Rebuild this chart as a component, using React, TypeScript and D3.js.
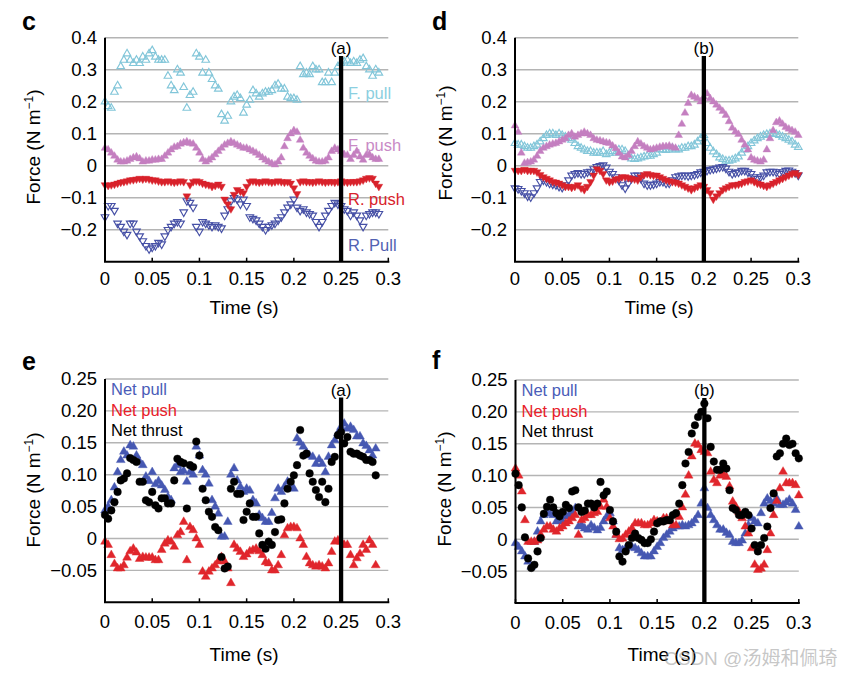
import React from "react";
import * as d3 from "d3";

// ---- data (sampling step 1/300 s) ----
const DT = 1 / 300;

const C_F_PULL = [0.20,0.185,0.18,0.23,0.25,0.31,0.33,0.35,0.33,0.32, 0.33,0.32,0.34,0.33,0.35,0.36,0.34,0.33,0.33,0.33, 0.28,0.25,0.235,0.30,0.29,0.245,0.18,0.22,0.23,0.35, 0.34,0.29,0.33,0.29,0.27,0.25,0.24,0.16,0.14,0.155, 0.20,0.215,0.22,0.21,0.165,0.19,0.205,0.235,0.225,0.215, 0.225,0.23,0.23,0.235,0.25,0.255,0.24,0.24,0.215,0.21, 0.21,0.205,0.31,0.285,0.29,0.285,0.31,0.30,0.30,0.26, 0.26,0.29,0.26,0.29,0.31,0.32,0.325,0.33,0.32,0.325, 0.32,0.33,0.335,0.31,0.30,0.28,0.30,0.29];
const C_F_PUSH = [0.055,0.05,0.04,0.03,0.018,0.012,0.012,0.015,0.02,0.025, 0.028,0.022,0.012,0.015,0.015,0.018,0.018,0.02,0.02,0.03, 0.04,0.05,0.058,0.06,0.068,0.072,0.075,0.07,0.068,0.055, 0.04,0.02,0.012,0.018,0.025,0.035,0.045,0.055,0.065,0.07, 0.075,0.07,0.065,0.06,0.055,0.055,0.05,0.045,0.04,0.033, 0.025,0.018,0.012,0.007,0.003,0.012,0.025,0.06,0.085,0.1, 0.11,0.105,0.08,0.055,0.04,0.03,0.022,0.015,0.012,0.012, 0.015,0.025,0.045,0.055,0.05,0.045,0.035,0.033,0.02,0.033, 0.045,0.028,0.018,0.033,0.035,0.025,0.02,0.02];
const C_R_PUSH = [-0.06,-0.062,-0.06,-0.058,-0.055,-0.052,-0.05,-0.048,-0.045,-0.044, -0.042,-0.04,-0.042,-0.04,-0.042,-0.045,-0.045,-0.048,-0.05,-0.05, -0.048,-0.05,-0.052,-0.05,-0.048,-0.05,-0.095,-0.06,-0.05,-0.048, -0.05,-0.055,-0.058,-0.06,-0.065,-0.062,-0.058,-0.065,-0.105,-0.12, -0.135,-0.09,-0.075,-0.08,-0.085,-0.065,-0.05,-0.048,-0.05,-0.052, -0.05,-0.048,-0.05,-0.052,-0.05,-0.048,-0.05,-0.052,-0.05,-0.055, -0.07,-0.088,-0.05,-0.048,-0.05,-0.05,-0.052,-0.05,-0.048,-0.05, -0.052,-0.05,-0.05,-0.052,-0.05,-0.048,-0.05,-0.052,-0.05,-0.05, -0.05,-0.048,-0.045,-0.04,-0.038,-0.04,-0.055,-0.065];
const C_R_PULL = [-0.16,-0.125,-0.125,-0.14,-0.18,-0.19,-0.205,-0.215,-0.18,-0.18, -0.205,-0.22,-0.235,-0.25,-0.26,-0.255,-0.25,-0.24,-0.245,-0.22, -0.2,-0.19,-0.18,-0.175,-0.18,-0.145,-0.11,-0.115,-0.13,-0.19, -0.205,-0.175,-0.18,-0.185,-0.19,-0.185,-0.19,-0.195,-0.155,-0.135, -0.11,-0.1,-0.105,-0.12,-0.105,-0.125,-0.16,-0.165,-0.17,-0.18, -0.19,-0.2,-0.19,-0.185,-0.18,-0.17,-0.16,-0.145,-0.13,-0.12, -0.105,-0.13,-0.14,-0.135,-0.145,-0.15,-0.155,-0.175,-0.19,-0.175, -0.155,-0.14,-0.125,-0.115,-0.12,-0.125,-0.135,-0.14,-0.155,-0.145, -0.155,-0.17,-0.19,-0.155,-0.15,-0.145,-0.145,-0.15];

const D_F_PULL = [0.07,0.065,0.065,0.06,0.055,0.055,0.06,0.065,0.075,0.085, 0.095,0.1,0.1,0.095,0.1,0.095,0.09,0.085,0.08,0.07, 0.06,0.055,0.05,0.045,0.045,0.04,0.04,0.04,0.045,0.035, 0.04,0.045,0.04,0.05,0.05,0.045,0.03,0.022,0.02,0.022, 0.025,0.028,0.03,0.03,0.035,0.04,0.05,0.05,0.048,0.05, 0.055,0.05,0.05,0.055,0.055,0.06,0.06,0.065,0.075,0.085, 0.095,0.07,0.055,0.044,0.035,0.025,0.02,0.015,0.015,0.018, 0.022,0.028,0.04,0.05,0.06,0.07,0.078,0.085,0.09,0.095, 0.098,0.1,0.1,0.098,0.095,0.09,0.085,0.08,0.075,0.065, 0.058];
const D_F_PUSH = [0.125,0.105,0.04,0.008,0.01,0.012,0.018,0.03,0.045,0.055, 0.06,0.065,0.068,0.07,0.075,0.08,0.085,0.095,0.1,0.09, 0.095,0.1,0.105,0.1,0.095,0.085,0.08,0.078,0.075,0.072, 0.07,0.062,0.054,0.04,0.028,0.025,0.033,0.045,0.06,0.075, 0.068,0.06,0.055,0.05,0.052,0.055,0.058,0.06,0.06,0.062, 0.058,0.055,0.095,0.13,0.165,0.195,0.22,0.215,0.21,0.2, 0.215,0.225,0.21,0.2,0.19,0.18,0.17,0.158,0.138,0.118, 0.106,0.098,0.08,0.065,0.05,0.025,0.018,0.015,0.012,0.018, 0.05,0.085,0.11,0.135,0.14,0.13,0.12,0.115,0.11,0.105, 0.095];
const D_R_PUSH = [-0.015,-0.015,-0.015,-0.012,-0.015,-0.015,-0.015,-0.02,-0.028,-0.035, -0.04,-0.045,-0.05,-0.052,-0.055,-0.06,-0.065,-0.065,-0.068,-0.065, -0.06,-0.07,-0.075,-0.065,-0.05,-0.03,-0.01,-0.015,-0.025,-0.045, -0.05,-0.048,-0.042,-0.04,-0.035,-0.035,-0.038,-0.04,-0.042,-0.045, -0.035,-0.028,-0.025,-0.028,-0.03,-0.03,-0.035,-0.04,-0.045,-0.048, -0.05,-0.052,-0.055,-0.06,-0.065,-0.07,-0.075,-0.07,-0.065,-0.06, -0.065,-0.075,-0.085,-0.105,-0.095,-0.085,-0.075,-0.07,-0.065,-0.06, -0.06,-0.058,-0.055,-0.05,-0.048,-0.045,-0.05,-0.055,-0.058,-0.062, -0.065,-0.06,-0.055,-0.05,-0.045,-0.04,-0.035,-0.03,-0.025,-0.022, -0.028];
const D_R_PULL = [-0.07,-0.072,-0.078,-0.085,-0.095,-0.098,-0.085,-0.07,-0.05,-0.045, -0.05,-0.055,-0.058,-0.06,-0.065,-0.068,-0.06,-0.045,-0.03,-0.025, -0.022,-0.025,-0.025,-0.02,-0.018,-0.01,-0.003,0.0,0.002,-0.005, -0.018,-0.025,-0.035,-0.045,-0.06,-0.07,-0.055,-0.04,-0.03,-0.03, -0.04,-0.055,-0.06,-0.06,-0.058,-0.055,-0.05,-0.05,-0.055,-0.055, -0.045,-0.035,-0.032,-0.03,-0.03,-0.032,-0.03,-0.028,-0.025,-0.02, -0.018,-0.015,-0.012,-0.01,-0.008,-0.005,-0.003,-0.008,-0.018,-0.025, -0.022,-0.02,-0.015,-0.015,-0.02,-0.025,-0.035,-0.04,-0.035,-0.03, -0.02,-0.018,-0.018,-0.02,-0.025,-0.02,-0.015,-0.014,-0.018,-0.022, -0.03];

const E_NET_PULL = [0.044,0.05,0.06,0.08,0.104,0.123,0.136,0.13,0.146,0.144, 0.13,0.12,0.115,0.097,0.09,0.104,0.085,0.09,0.083,0.076, 0.065,0.06,0.11,0.115,0.104,0.106,0.089,0.104,0.1,0.144, 0.13,0.107,0.1,0.086,0.06,0.05,0.039,0.003,0.003,0.026, 0.1,0.11,0.091,0.081,0.073,0.078,0.075,0.06,0.055,0.037, 0.032,0.026,0.026,0.04,0.063,0.078,0.073,0.081,0.089,0.08, 0.078,0.157,0.15,0.144,0.135,0.13,0.128,0.117,0.124,0.117, 0.104,0.128,0.146,0.154,0.165,0.175,0.18,0.172,0.175,0.17, 0.16,0.16,0.149,0.145,0.138,0.13,0.141];
const E_NET_PUSH = [-0.005,-0.01,-0.026,-0.04,-0.047,-0.047,-0.042,-0.03,-0.02,-0.016, -0.022,-0.032,-0.029,-0.03,-0.03,-0.03,-0.034,-0.034,-0.018,-0.008, -0.003,-0.005,-0.013,0.005,0.01,0.026,-0.034,0.018,0.013,0.0, -0.01,-0.052,-0.06,-0.052,-0.047,-0.042,-0.036,-0.029,-0.036,-0.047, -0.07,-0.01,-0.016,-0.021,-0.029,-0.025,-0.02,-0.018,-0.016,-0.02, -0.026,-0.037,-0.039,-0.05,-0.05,-0.042,-0.026,0.005,0.016,0.018, 0.018,0.016,0.0,-0.01,-0.029,-0.039,-0.042,-0.044,-0.042,-0.044, -0.047,-0.039,-0.021,-0.005,-0.003,-0.005,-0.01,-0.01,-0.026,-0.042, -0.031,-0.024,-0.01,-0.018,-0.003,-0.01,-0.042];
const E_NET_THRUST = [0.037,0.031,0.044,0.057,0.073,0.091,0.094,0.102,0.126,0.123, 0.12,0.089,0.089,0.06,0.057,0.073,0.052,0.047,0.063,0.063, 0.055,0.055,0.091,0.125,0.12,0.118,0.047,0.115,0.112,0.152, 0.13,0.078,0.06,0.042,0.034,0.018,0.013,-0.029,-0.047,-0.044, 0.078,0.089,0.07,0.07,0.029,0.042,0.055,0.034,0.034,0.008, -0.01,-0.016,-0.005,-0.01,0.01,0.029,0.03,0.055,0.078,0.089, 0.099,0.115,0.17,0.13,0.133,0.102,0.089,0.076,0.065,0.089, 0.057,0.078,0.12,0.128,0.162,0.167,0.149,0.159,0.136,0.133, 0.133,0.13,0.128,0.123,0.123,0.12,0.099];

const F_NET_PULL = [-0.006,-0.012,-0.019,-0.027,-0.035,-0.043,-0.004,0.012,0.028,0.038, 0.041,0.04,0.038,0.028,0.032,0.028,0.036,0.038,0.043,0.049, 0.02,0.022,0.017,0.015,0.022,0.018,0.014,0.018,0.028,0.036, 0.041,0.028,0.007,-0.014,-0.017,-0.014,-0.012,-0.012,-0.014,-0.017, -0.022,-0.027,-0.027,-0.027,-0.019,-0.012,-0.006,0.002,0.007,0.012, 0.017,0.02,0.02,0.022,0.02,0.022,0.025,0.03,0.038,0.056, 0.08,0.049,0.038,0.03,0.022,0.015,0.015,0.01,0.007,-0.004, -0.006,-0.006,-0.002,0.009,0.022,0.033,0.028,0.025,0.041,0.056, 0.064,0.06,0.056,0.064,0.054,0.054,0.058,0.062,0.056,0.046, 0.02];
const F_NET_PUSH = [0.111,0.1,0.075,0.03,-0.004,-0.004,-0.004,-0.002,0.007,0.015, 0.02,0.02,0.015,0.012,0.017,0.02,0.025,0.028,0.033,0.038, 0.007,0.03,0.033,0.038,0.038,0.041,0.043,0.051,0.062,0.051, 0.033,0.02,0.007,0.0,0.001,0.007,0.012,0.017,0.025,0.025, 0.025,0.022,0.022,0.025,0.03,0.028,0.027,0.033,0.033,0.028, 0.022,0.022,0.035,0.05,0.07,0.1,0.13,0.15,0.148,0.14, 0.137,0.135,0.106,0.093,0.088,0.1,0.102,0.098,0.083,0.059, 0.051,0.043,0.033,0.02,0.009,-0.014,-0.04,-0.048,-0.046,-0.04, -0.017,0.009,0.038,0.06,0.08,0.106,0.088,0.088,0.088,0.085, 0.069];
const F_NET_THRUST = [0.103,0.085,0.05,0.003,-0.03,-0.045,-0.04,-0.019,0.002,0.04, 0.051,0.062,0.05,0.041,0.036,0.043,0.054,0.049,0.075,0.077, 0.05,0.043,0.045,0.056,0.056,0.05,0.056,0.09,0.069,0.075, 0.046,0.028,0.012,-0.027,-0.035,-0.019,-0.009,0.002,0.009,0.002, -0.001,-0.006,-0.006,0.0,0.012,0.025,0.028,0.028,0.03,0.03, 0.038,0.041,0.056,0.085,0.119,0.137,0.166,0.179,0.192,0.2, 0.213,0.19,0.145,0.122,0.109,0.109,0.119,0.111,0.077,0.049, 0.046,0.038,0.038,0.043,0.038,0.017,-0.009,-0.019,-0.009,0.002, 0.02,0.049,0.072,0.13,0.135,0.15,0.158,0.148,0.15,0.135, 0.127];

const X_TICKS = [0, 0.05, 0.1, 0.15, 0.2, 0.25, 0.3];
const X_LABELS = ["0", "0.05", "0.1", "0.15", "0.2", "0.25", "0.3"];
const TOP_Y_TICKS = [0.4, 0.3, 0.2, 0.1, 0, -0.1, -0.2];
const TOP_Y_LABELS = ["0.4", "0.3", "0.2", "0.1", "0", "\u22120.1", "\u22120.2"];
const BOT_Y_TICKS = [0.25, 0.2, 0.15, 0.1, 0.05, 0, -0.05];
const BOT_Y_LABELS = ["0.25", "0.20", "0.15", "0.10", "0.05", "0", "\u22120.05"];

const TOP_SERIES_NAMES = ["F. pull", "F. push", "R. push", "R. Pull"];
const BOT_SERIES_NAMES = ["Net pull", "Net push", "Net thrust"];

// ---- styling ----
const FONT = "'Liberation Sans', Arial, Helvetica, sans-serif";
const COL = {
  fpull: "#82c6d9",
  fpush: "#c47fc0",
  rpush: "#d8222b",
  rpull: "#4650a6",
  npull: "#4658b2",
  npush: "#e0262c",
  nthrust: "#000000",
};

type Shape = "up" | "down" | "dot";
type Series = { values: number[]; color: string; shape: Shape; filled: boolean; size: number };

function markerPath(shape: Shape, size: number) {
  if (shape === "dot") return d3.symbol().type(d3.symbolCircle).size(size)() as string;
  return d3.symbol().type(d3.symbolTriangle).size(size)() as string;
}

type PanelProps = {
  letter: string;
  letterX: number;
  letterY: number;
  left: number;
  top: number;
  bottom: number;
  yDomain: [number, number];
  yTicks: number[];
  yLabels: string[];
  series: Series[];
  vTime: number;
  vTop: number;
  vLabel: string;
  yTitleX: number;
  yTitleY: number;
  xTitleX: number;
  xTitleY: number;
  xLabelDy: number;
  legend: { text: string; color: string; x: number; y: number }[];
};

function Panel(p: PanelProps) {
  const x = d3.scaleLinear().domain([0, 0.3]).range([p.left, p.left + 283.3]);
  const y = d3.scaleLinear().domain(p.yDomain).range([p.bottom, p.top]);
  const x0 = x(0);
  const x1 = x(0.3);
  return (
    <g fontFamily={FONT}>
      <text x={p.letterX} y={p.letterY} fontSize={25} fontWeight="bold" fill="#000">
        {p.letter}
      </text>
      {p.yTicks.map((t, i) => (
        <g key={"g" + i}>
          <line x1={x0} x2={x1} y1={y(t)} y2={y(t)} stroke="#b4b4b4" strokeWidth={1.4} />
          <text x={x0 - 8} y={y(t)} dy="0.35em" textAnchor="end" fontSize={18.5} fill="#000">
            {p.yLabels[i]}
          </text>
        </g>
      ))}
      {p.series.map((s, si) => {
        const path = markerPath(s.shape, s.size);
        return (
          <g key={"s" + si}>
            {s.values.map((v, i) => (
              <path
                key={i}
                d={path}
                transform={`translate(${x(i * DT)},${y(v)})${s.shape === "down" ? " rotate(180)" : ""}`}
                fill={s.filled ? s.color : "none"}
                stroke={s.color}
                strokeWidth={s.filled ? 0.4 : 1.15}
              />
            ))}
          </g>
        );
      })}
      <line x1={x0} x2={x0} y1={p.top} y2={p.bottom} stroke="#000" strokeWidth={2} />
      <line x1={x0 - 1} x2={x1 + 1} y1={p.bottom} y2={p.bottom} stroke="#000" strokeWidth={2} />
      {X_TICKS.map((t, i) => (
        <g key={"x" + i}>
          <line x1={x(t)} x2={x(t)} y1={p.bottom} y2={p.bottom - 4} stroke="#000" strokeWidth={1.5} />
          <text x={x(t)} y={p.bottom + p.xLabelDy} textAnchor="middle" fontSize={18.5} fill="#000">
            {X_LABELS[i]}
          </text>
        </g>
      ))}
      <line x1={x(p.vTime)} x2={x(p.vTime)} y1={p.vTop} y2={p.bottom} stroke="#000" strokeWidth={4.3} />
      <text x={x(p.vTime)} y={p.vTop - 2} textAnchor="middle" fontSize={17} fill="#000">
        {p.vLabel}
      </text>
      {p.legend.map((l, i) => (
        <text key={"l" + i} x={l.x} y={l.y} fontSize={16.5} fill={l.color}>
          {l.text}
        </text>
      ))}
      <text
        transform={`translate(${p.yTitleX},${p.yTitleY}) rotate(-90)`}
        textAnchor="middle"
        fontSize={19}
        fill="#000"
      >
        Force (N m
        <tspan fontSize={12} dy={-7}>{"\u22121"}</tspan>
        <tspan dy={7}>)</tspan>
      </text>
      <text x={p.xTitleX} y={p.xTitleY} textAnchor="middle" fontSize={19} fill="#000">
        Time (s)
      </text>
    </g>
  );
}

export default function App() {
  const TRI_OPEN = 25;
  const TRI_TOP = 26;
  const TRI_BOT = 34;
  const DOT = 46;

  const cSeries: Series[] = [
    { values: C_F_PULL, color: COL.fpull, shape: "up", filled: false, size: TRI_OPEN },
    { values: C_F_PUSH, color: COL.fpush, shape: "up", filled: true, size: TRI_TOP },
    { values: C_R_PULL, color: COL.rpull, shape: "down", filled: false, size: TRI_OPEN },
    { values: C_R_PUSH, color: COL.rpush, shape: "down", filled: true, size: TRI_TOP },
  ];
  const dSeries: Series[] = [
    { values: D_F_PULL, color: COL.fpull, shape: "up", filled: false, size: TRI_OPEN },
    { values: D_F_PUSH, color: COL.fpush, shape: "up", filled: true, size: TRI_TOP },
    { values: D_R_PULL, color: COL.rpull, shape: "down", filled: false, size: TRI_OPEN },
    { values: D_R_PUSH, color: COL.rpush, shape: "down", filled: true, size: TRI_TOP },
  ];
  const eSeries: Series[] = [
    { values: E_NET_PULL, color: COL.npull, shape: "up", filled: true, size: TRI_BOT },
    { values: E_NET_PUSH, color: COL.npush, shape: "up", filled: true, size: TRI_BOT },
    { values: E_NET_THRUST, color: COL.nthrust, shape: "dot", filled: true, size: DOT },
  ];
  const fSeries: Series[] = [
    { values: F_NET_PULL, color: COL.npull, shape: "up", filled: true, size: TRI_BOT },
    { values: F_NET_PUSH, color: COL.npush, shape: "up", filled: true, size: TRI_BOT },
    { values: F_NET_THRUST, color: COL.nthrust, shape: "dot", filled: true, size: DOT },
  ];

  const topLegendColors = ["#8ccfe0", "#c98ac6", "#d8222b", "#5262b2"];
  const topLegendY = [99, 151, 204.5, 251];
  const botLegendColors = ["#4a5cb8", "#e8202a", "#000"];
  const botLegendDy = [0, 20.5, 41];

  return (
    <svg
      width={850}
      height={675}
      style={{ position: "absolute", left: 0, top: 0, background: "#fff" }}
    >
      <rect x={0} y={0} width={850} height={675} fill="#fff" />
      <Panel
        letter="c" letterX={22} letterY={30}
        left={105} top={37.7} bottom={261.7} yDomain={[-0.3, 0.4]}
        yTicks={TOP_Y_TICKS} yLabels={TOP_Y_LABELS} series={cSeries}
        vTime={0.25} vTop={56} vLabel="(a)"
        yTitleX={40} yTitleY={147} xTitleX={244} xTitleY={313.5} xLabelDy={23.5}
        legend={TOP_SERIES_NAMES.map((t, i) => ({ text: t, color: topLegendColors[i], x: 348, y: topLegendY[i] }))}
      />
      <Panel
        letter="d" letterX={432} letterY={30}
        left={515} top={37.7} bottom={261.7} yDomain={[-0.3, 0.4]}
        yTicks={TOP_Y_TICKS} yLabels={TOP_Y_LABELS} series={dSeries}
        vTime={0.2} vTop={56} vLabel="(b)"
        yTitleX={452} yTitleY={143} xTitleX={659} xTitleY={313.5} xLabelDy={23.5}
        legend={[]}
      />
      <Panel
        letter="e" letterX={22} letterY={370}
        left={105} top={379} bottom={602.3} yDomain={[-0.1, 0.25]}
        yTicks={BOT_Y_TICKS} yLabels={BOT_Y_LABELS} series={eSeries}
        vTime={0.25} vTop={397.5} vLabel="(a)"
        yTitleX={40} yTitleY={490} xTitleX={244} xTitleY={660.5} xLabelDy={26}
        legend={BOT_SERIES_NAMES.map((t, i) => ({ text: t, color: botLegendColors[i], x: 111, y: 395 + botLegendDy[i] }))}
      />
      <Panel
        letter="f" letterX={432} letterY={369}
        left={515.5} top={380} bottom={603} yDomain={[-0.1, 0.25]}
        yTicks={BOT_Y_TICKS} yLabels={BOT_Y_LABELS} series={fSeries}
        vTime={0.2} vTop={398} vLabel="(b)"
        yTitleX={451} yTitleY={489} xTitleX={662} xTitleY={660.5} xLabelDy={26}
        legend={BOT_SERIES_NAMES.map((t, i) => ({ text: t, color: botLegendColors[i], x: 521.5, y: 396 + botLegendDy[i] }))}
      />
      <text
        x={664}
        y={665}
        fontSize={19}
        fontFamily="'Liberation Sans', 'Noto Sans CJK SC', sans-serif"
        fill="rgba(150,150,150,0.55)"
      >
        CSDN @汤姆和佩琦
      </text>
    </svg>
  );
}
